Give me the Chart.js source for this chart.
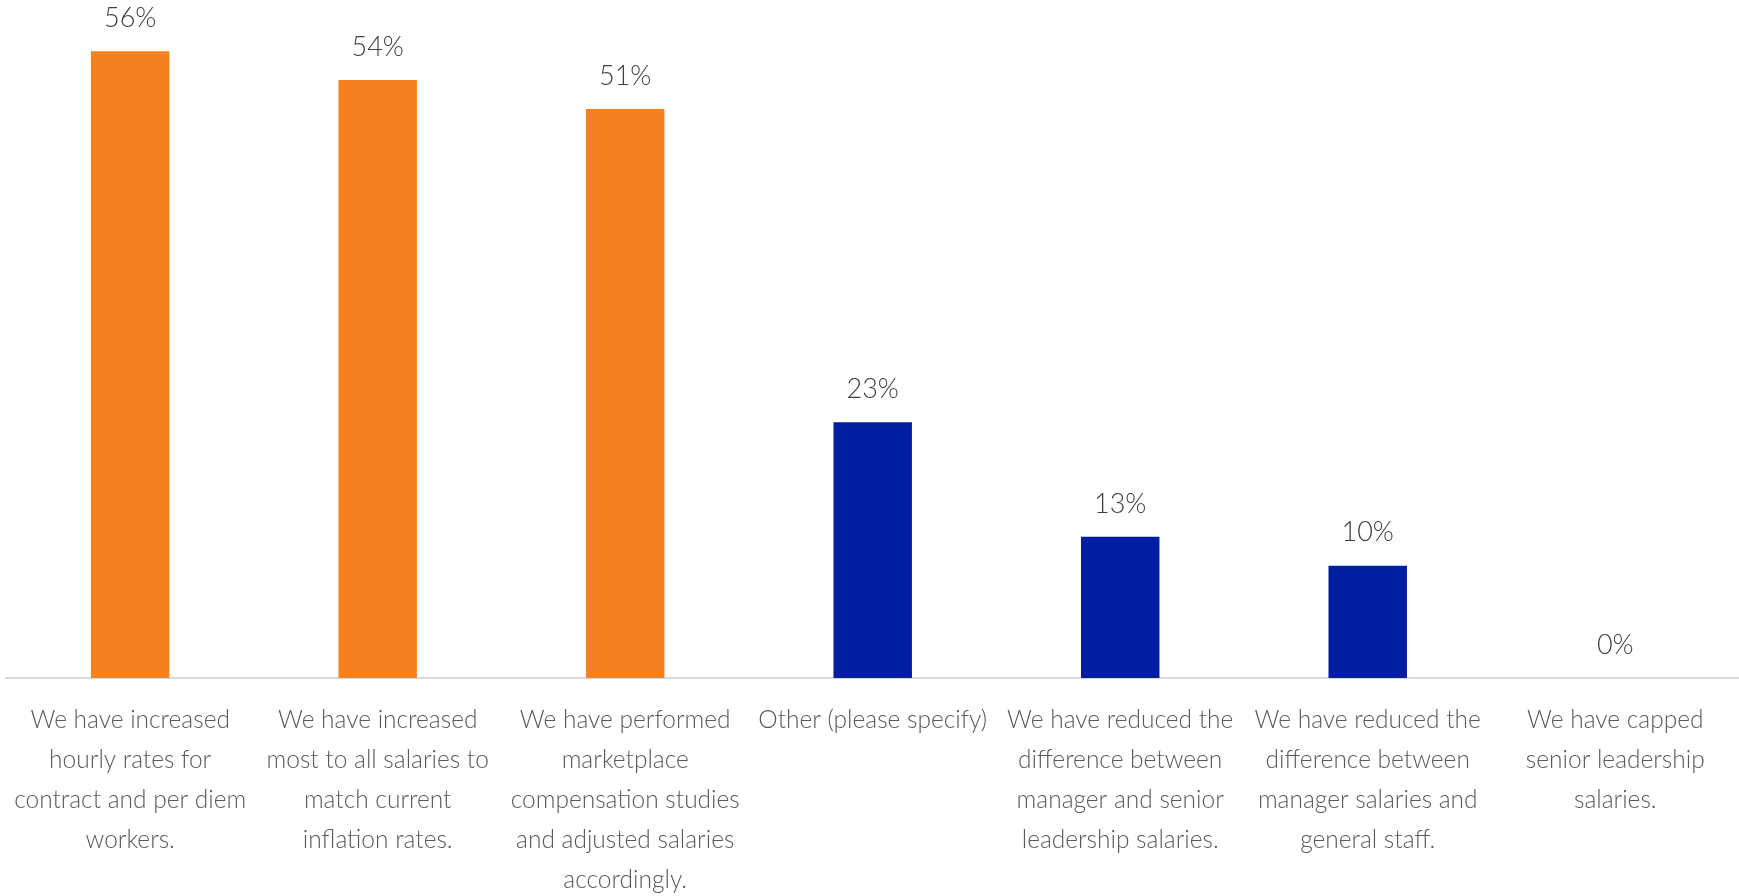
<!DOCTYPE html>
<html>
<head>
<meta charset="utf-8">
<script src="https://cdn.jsdelivr.net/npm/chart.js@4"></script>
<style>
  html, body { margin: 0; padding: 0; background: #fff; }
  #wrap { width: 1739px; height: 896px; position: relative; }
</style>
</head>
<body>
<div id="wrap"><canvas id="chart"></canvas></div>
<script>
// survey answers, one bar per answer
const categories = [
	['We have increased', 'hourly rates for', 'contract and per diem', 'workers.'],
	['We have increased', 'most to all salaries to', 'match current', 'inflation rates.'],
	['We have performed', 'marketplace', 'compensation studies', 'and adjusted salaries', 'accordingly.'],
	['Other (please specify)'],
	['We have reduced the', 'difference between', 'manager and senior', 'leadership salaries.'],
	['We have reduced the', 'difference between', 'manager salaries and', 'general staff.'],
	['We have capped', 'senior leadership', 'salaries.'],
]
// bar heights (labels show them rounded)
const values = [56.4, 53.8, 51.2, 23.0, 12.7, 10.1, 0]
const barColors = ['#F58220', '#F58220', '#F58220', '#001E9F', '#001E9F', '#001E9F', '#001E9F']

const textColor = '#595959'
const fontFamily = 'Lato, "Noto Sans", sans-serif'

// draws the "56%" style labels above each bar
const valueLabels = {
	id: 'valueLabels',
	afterDatasetsDraw(chart) {
		const ctx = chart.ctx
		const meta = chart.getDatasetMeta(0)
		ctx.save()
		ctx.fillStyle = '#404040'
		ctx.font = '300 27px ' + fontFamily
		ctx.textAlign = 'center'
		ctx.textBaseline = 'middle'
		meta.data.forEach((bar, i) => {
			ctx.fillText(Math.round(values[i]) + '%', bar.x, bar.y - 33)
		})
		ctx.restore()
	},
}

const chart = new Chart(document.getElementById('chart'), {
	type: 'bar',
	data: {
		labels: categories,
		datasets: [
			{
				data: values,
				backgroundColor: barColors,
				barPercentage: 1,
				categoryPercentage: 0.317,
			},
		],
	},
	options: {
		responsive: true,
		maintainAspectRatio: false,
		animation: false,
		layout: { padding: { left: 2, right: -3, top: 0, bottom: 0 } },
		plugins: {
			legend: { display: false },
			tooltip: { enabled: false },
		},
		scales: {
			x: {
				grid: { display: false },
				border: { display: true, color: '#D9D9D9', width: 2 },
				ticks: {
					color: textColor,
					font: { family: fontFamily, size: 24.5, weight: '300', lineHeight: 1.63 },
					maxRotation: 0,
					minRotation: 0,
					autoSkip: false,
					padding: 14,
				},
				afterFit(scale) {
					scale.height = 218
				},
			},
			y: {
				display: false,
				min: 0,
				max: 61,
			},
		},
	},
	plugins: [valueLabels],
})
</script>
</body>
</html>
